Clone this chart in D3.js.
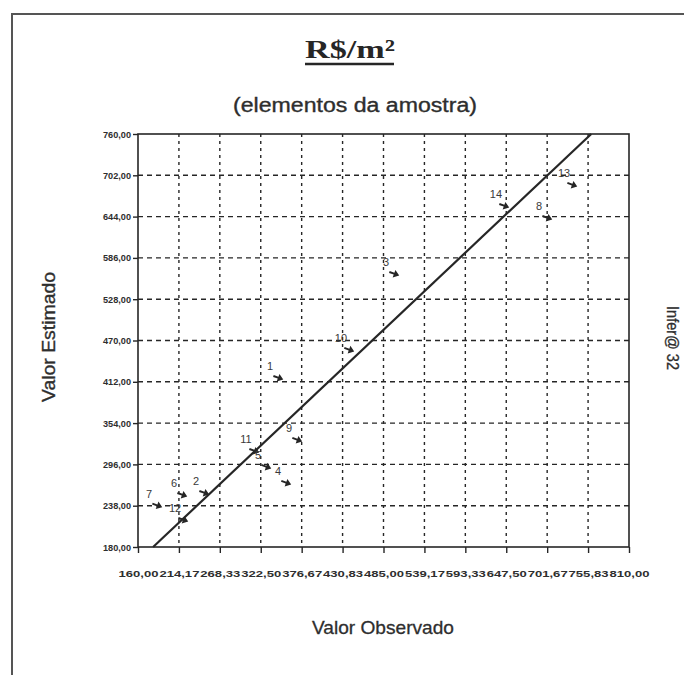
<!DOCTYPE html>
<html>
<head>
<meta charset="utf-8">
<script src="https://cdn.jsdelivr.net/npm/d3@7"></script>
<style>
  html, body { margin: 0; padding: 0; background: #fff; }
  svg { display: block; }
</style>
</head>
<body>
<svg id="chart" width="684" height="675"></svg>
<script>
// Sample elements: observed vs. estimated price per m²
const pointIds  = ["1", "2", "3", "4", "5", "6", "7", "8", "9", "10", "11", "12", "13", "14"];
const observed  = [346.7, 248.7, 500.2, 357.2, 330.8, 219.6, 186.5, 702.8, 371.8, 440.6, 314.9, 220.9, 735.9, 645.8];
const estimated = [417.3, 255.8, 563.4, 269.9, 292.4, 253.0, 238.0, 642.0, 330.3, 456.7, 314.8, 217.9, 688.4, 658.9];

// Axis ticks and their printed labels
const xTickValues = [160, 214.17, 268.33, 322.5, 376.67, 430.83, 485, 539.17, 593.33, 647.5, 701.67, 755.83, 810];
const xTickLabels = ["160,00", "214,17", "268,33", "322,50", "376,67", "430,83", "485,00", "539,17", "593,33", "647,50", "701,67", "755,83", "810,00"];
const yTickValues = [180, 238, 296, 354, 412, 470, 528, 586, 644, 702, 760];
const yTickLabels = ["180,00", "238,00", "296,00", "354,00", "412,00", "470,00", "528,00", "586,00", "644,00", "702,00", "760,00"];

// Reference line: estimated = observed
const refLine = [[180, 180], [760, 760]];

const svg = d3.select("#chart");
const ink = "#262626";
const txt = "#2e2e2e";
const sans = "'Liberation Sans', Arial, sans-serif";

const plot = { left: 138, top: 134, right: 629, bottom: 547 };
const x = d3.scaleLinear().domain([160, 810]).range([plot.left, plot.right]);
const y = d3.scaleLinear().domain([180, 760]).range([plot.bottom, plot.top]);

// Outer page frame
svg.append("path")
  .attr("d", "M12,676 L12,14 L690,14")
  .attr("fill", "none").attr("stroke", "#555").attr("stroke-width", 2);

// Title with underline
svg.append("text")
  .attr("x", 350).attr("y", 58)
  .attr("text-anchor", "middle")
  .attr("font-family", "'Liberation Serif', 'Times New Roman', serif")
  .attr("font-weight", "bold").attr("font-size", 26)
  .attr("textLength", 90).attr("lengthAdjust", "spacingAndGlyphs")
  .attr("fill", ink)
  .text("R$/m²");
svg.append("line")
  .attr("x1", 305).attr("x2", 394).attr("y1", 64).attr("y2", 64)
  .attr("stroke", ink).attr("stroke-width", 2.5);

svg.append("text")
  .attr("x", 355).attr("y", 112)
  .attr("text-anchor", "middle")
  .attr("font-family", sans)
  .attr("font-size", 20)
  .attr("textLength", 244).attr("lengthAdjust", "spacingAndGlyphs")
  .attr("fill", txt).attr("stroke", txt).attr("stroke-width", 0.35)
  .text("(elementos da amostra)");

// Grid lines
const grid = svg.append("g");
grid.selectAll("line.h").data(yTickValues.slice(1, -1)).join("line")
  .attr("class", "h")
  .attr("x1", plot.left).attr("x2", plot.right)
  .attr("y1", d => y(d)).attr("y2", d => y(d))
  .attr("stroke", ink).attr("stroke-width", 1.4)
  .attr("stroke-dasharray", "5,4");
grid.selectAll("line.v").data(xTickValues.slice(1, -1)).join("line")
  .attr("class", "v")
  .attr("x1", d => x(d)).attr("x2", d => x(d))
  .attr("y1", plot.top).attr("y2", plot.bottom)
  .attr("stroke", ink).attr("stroke-width", 1.4)
  .attr("stroke-dasharray", "3,4");

// Plot frame
svg.append("rect")
  .attr("x", plot.left).attr("y", plot.top)
  .attr("width", plot.right - plot.left).attr("height", plot.bottom - plot.top)
  .attr("fill", "none").attr("stroke", ink).attr("stroke-width", 1.6);

// Axes
const xAxis = d3.axisBottom(x)
  .tickValues(xTickValues)
  .tickFormat((d, i) => xTickLabels[i])
  .tickSize(6).tickPadding(17);
const gx = svg.append("g").attr("transform", `translate(0,${plot.bottom})`).call(xAxis);
gx.select(".domain").remove();
gx.selectAll(".tick line").attr("stroke", ink).attr("stroke-width", 1.4);
gx.selectAll(".tick text")
  .attr("font-family", sans)
  .attr("font-size", 9.5).attr("font-weight", "bold")
  .attr("textLength", 40).attr("lengthAdjust", "spacingAndGlyphs")
  .attr("fill", txt);

const yAxis = d3.axisLeft(y)
  .tickValues(yTickValues)
  .tickFormat((d, i) => yTickLabels[i])
  .tickSize(5).tickPadding(2);
const gy = svg.append("g").attr("transform", `translate(${plot.left},0)`).call(yAxis);
gy.select(".domain").remove();
gy.selectAll(".tick line").attr("stroke", ink).attr("stroke-width", 1.4);
gy.selectAll(".tick text")
  .attr("font-family", sans)
  .attr("font-size", 9.5).attr("font-weight", "bold")
  .attr("textLength", 28).attr("lengthAdjust", "spacingAndGlyphs")
  .attr("fill", txt);

// Axis titles
svg.append("text")
  .attr("transform", "translate(55,337) rotate(-90)")
  .attr("text-anchor", "middle")
  .attr("font-family", sans)
  .attr("font-size", 19)
  .attr("textLength", 130).attr("lengthAdjust", "spacingAndGlyphs")
  .attr("fill", txt).attr("stroke", txt).attr("stroke-width", 0.35)
  .text("Valor Estimado");

svg.append("text")
  .attr("x", 383).attr("y", 634)
  .attr("text-anchor", "middle")
  .attr("font-family", sans)
  .attr("font-size", 19)
  .attr("textLength", 142).attr("lengthAdjust", "spacingAndGlyphs")
  .attr("fill", txt).attr("stroke", txt).attr("stroke-width", 0.3)
  .text("Valor Observado");

svg.append("text")
  .attr("transform", "translate(667,338) rotate(90)")
  .attr("text-anchor", "middle")
  .attr("font-family", sans)
  .attr("font-size", 16)
  .attr("textLength", 64).attr("lengthAdjust", "spacingAndGlyphs")
  .attr("fill", txt).attr("stroke", txt).attr("stroke-width", 0.3)
  .text("Infer@ 32");

// Reference line
svg.append("line")
  .attr("x1", x(refLine[0][0])).attr("y1", y(refLine[0][1]))
  .attr("x2", x(refLine[1][0])).attr("y2", y(refLine[1][1]))
  .attr("stroke", ink).attr("stroke-width", 2.2);

// Points: small arrow markers with their sample number
const pts = pointIds.map((id, i) => ({ id, ox: observed[i], est: estimated[i] }));
const marker = "M-6,-1 L-1,-1 L-1,-4 L4.5,0 L-1,4 L-1,1 L-6,1 Z";
const pg = svg.append("g");
pg.selectAll("path").data(pts).join("path")
  .attr("d", marker)
  .attr("transform", d => `translate(${x(d.ox)},${y(d.est)}) rotate(20)`)
  .attr("fill", ink);
pg.selectAll("text").data(pts).join("text")
  .attr("x", d => x(d.ox) - 9)
  .attr("y", d => y(d.est) - 8)
  .attr("text-anchor", "middle")
  .attr("font-family", sans)
  .attr("font-size", 11)
  .attr("fill", "#3a3a3a")
  .text(d => d.id);
</script>
</body>
</html>
